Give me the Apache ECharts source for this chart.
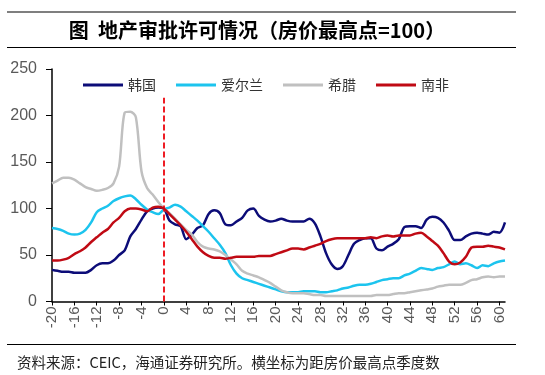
<!DOCTYPE html>
<html lang="zh">
<head>
<meta charset="utf-8">
<title>地产审批许可情况</title>
<script src="https://cdn.jsdelivr.net/npm/echarts@6/dist/echarts.min.js"></script>
<style>
    html, body { margin: 0; padding: 0; background: #fff; }
    #main { width: 545px; height: 375px; }
</style>
</head>
<body>
<div id="main"></div>
<script type="text/javascript">
// 横坐标：距房价最高点季度数
var quarters = ['-20','-19','-18','-17','-16','-15','-14','-13','-12','-11','-10','-9','-8','-7','-6','-5','-4','-3','-2','-1',
    '0','1','2','3','4','5','6','7','8','9','10','11','12','13','14','15','16','17','18','19',
    '20','21','22','23','24','25','26','27','28','29','30','31','32','33','34','35','36','37','38','39',
    '40','41','42','43','44','45','46','47','48','49','50','51','52','53','54','55','56','57','58','59','60','61'];

var korea = [34,33,32,32,31,31,31,34,39,41,41,44,50,55,70,78,88,97,100,101,
    100,87,83,81,67,72,79,82,94,98,95,83,82,86,90,98,100,92,88,86,
    87,89,87,86,86,86,89,84,70,52,40,35,38,50,62,66,68,68,57,55,
    59,62,67,80,81,81,79,88,91,90,85,76,66,66,70,73,74,73,72,75,74,85];

var ireland = [79,78,76,73,72,73,77,85,96,100,103,108,111,113,114,110,104,99,96,94,
    99,101,104,102,97,92,87,81,75,68,61,52,39,30,25,23,21,19,17,15,
    13,11,10,10,10,11,11,11,10,10,11,12,14,15,17,18,18,19,21,23,
    24,25,25,28,30,33,36,35,34,36,37,40,43,40,41,39,36,39,38,41,43,44];

var greece = [127,130,133,133,131,127,123,121,119,120,122,127,145,203,204,198,140,122,115,107,
    100,95,89,83,77,72,64,59,57,56,54,50,45,40,33,30,28,26,23,20,
    16,12,10,9,9,9,8,7,7,6,6,6,6,6,6,6,6,6,7,7,
    7,8,9,9,10,11,12,13,14,16,17,18,18,18,20,23,24,26,27,26,27,27];

var southAfrica = [44,44,45,47,51,54,58,64,69,74,78,85,90,97,100,100,99,97,101,102,
    100,94,88,82,75,67,59,53,49,47,47,46,47,48,48,48,48,49,49,49,
    51,53,55,57,57,56,58,60,62,65,67,68,68,68,68,68,68,69,68,70,
    71,70,71,71,71,73,74,70,65,60,52,43,40,42,48,58,59,59,60,59,58,56];

var seriesNames = ['韩国', '爱尔兰', '希腊', '南非'];
var seriesColors = ['#0c0c78', '#1cc4ee', '#c0c0c0', '#c00a14'];
var seriesData = [korea, ireland, greece, southAfrica];

// 房价最高点竖线（第0季度）
var peakLineTop = 219;

var myChart = echarts.init(document.getElementById('main'));

var series = [];
for (var i = 0; i < seriesNames.length; i++) {
    series.push({
        name: seriesNames[i],
        type: 'line',
        data: seriesData[i],
        symbol: 'none',
        smooth: 0.3,
        lineStyle: { color: seriesColors[i], width: 2.5 },
        itemStyle: { color: seriesColors[i] },
        z: 2 + i
    });
}
// 红色虚线
series[0].markLine = {
    silent: true,
    symbol: 'none',
    label: { show: false },
    lineStyle: { color: '#ee1c24', type: [6, 3], width: 2 },
    data: [[{ coord: ['0', 0] }, { coord: ['0', peakLineTop] }]]
};

var option = {
    animation: false,
    backgroundColor: '#fff',
    grid: { left: 52, right: 40, top: 69, bottom: 73.5 },
    legend: {
        top: 73,
        left: 78,
        itemGap: 20,
        itemWidth: 40,
        itemHeight: 3,
        icon: 'rect',
        textStyle: { fontFamily: 'Noto Sans CJK SC', fontSize: 14, color: '#333' },
        data: seriesNames
    },
    xAxis: {
        type: 'category',
        data: quarters,
        boundaryGap: false,
        axisLine: { lineStyle: { color: '#000', width: 1.5 } },
        axisTick: { interval: 3, length: 4, lineStyle: { color: '#000' } },
        axisLabel: {
            interval: 3,
            rotate: 90,
            margin: 5,
            fontFamily: 'Liberation Sans',
            fontSize: 15,
            color: '#595959'
        },
        splitLine: { show: false }
    },
    yAxis: {
        type: 'value',
        min: 0,
        max: 250,
        interval: 50,
        axisLine: { show: true, lineStyle: { color: '#000', width: 1.5 } },
        axisTick: { show: true, length: 6, lineStyle: { color: '#000' } },
        axisLabel: {
            margin: 15,
            fontFamily: 'Liberation Sans',
            fontSize: 16,
            color: '#595959'
        },
        splitLine: { show: false }
    },
    graphic: [
        { type: 'line', shape: { x1: 7, y1: 12, x2: 516, y2: 12 }, style: { stroke: '#000', lineWidth: 1.2 } },
        { type: 'line', shape: { x1: 7, y1: 47.5, x2: 516, y2: 47.5 }, style: { stroke: '#000', lineWidth: 1.2 } },
        { type: 'line', shape: { x1: 7, y1: 344.5, x2: 516, y2: 344.5 }, style: { stroke: '#000', lineWidth: 1.2 } },
        {
            type: 'text', x: 257, y: 30,
            style: {
                text: '图  地产审批许可情况（房价最高点=100）',
                font: 'bold 20px "Noto Sans CJK SC"',
                fill: '#000',
                textAlign: 'center',
                textVerticalAlign: 'middle'
            }
        },
        {
            type: 'text', x: 17, y: 362,
            style: {
                text: '资料来源：CEIC，海通证券研究所。横坐标为距房价最高点季度数',
                font: '14.5px "Noto Sans CJK SC"',
                fill: '#222',
                textAlign: 'left',
                textVerticalAlign: 'middle'
            }
        }
    ],
    series: series
};

myChart.setOption(option);
</script>
</body>
</html>
